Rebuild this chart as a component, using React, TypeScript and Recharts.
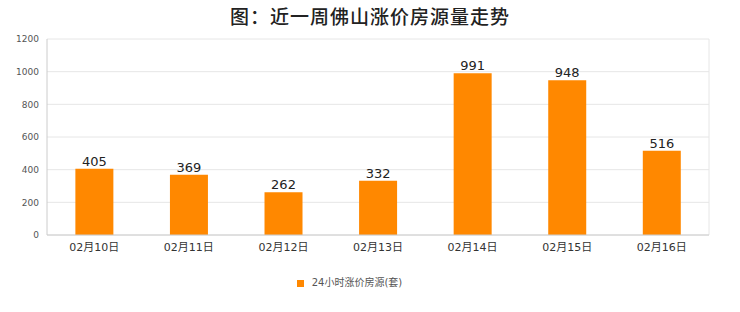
import { Bar, BarChart, CartesianGrid, LabelList, Legend, XAxis, YAxis } from 'recharts';

const dates = ['02月10日', '02月11日', '02月12日', '02月13日', '02月14日', '02月15日', '02月16日'];
const risingListings = [405, 369, 262, 332, 991, 948, 516];
const yTicks = [0, 200, 400, 600, 800, 1000, 1200];

const data = dates.map((date, i) => ({ date, value: risingListings[i] }));

const latin = '"DejaVu Sans", "Noto Sans CJK SC", sans-serif';

export default function App() {
  return (
    <div style={{ position: 'absolute', left: 0, top: 0, width: 740, height: 312, background: '#fff', fontFamily: latin }}>
      <div style={{ position: 'absolute', top: 2, left: 0, width: 740, textAlign: 'center', fontSize: 19, fontWeight: 500, color: '#222', letterSpacing: 1, fontFamily: '"Noto Sans CJK SC", sans-serif' }}>
        图：近一周佛山涨价房源量走势
      </div>
      <BarChart width={740} height={312} data={data} margin={{ top: 39, right: 31, left: 0, bottom: 23 }} barCategoryGap="30%">
        <CartesianGrid
          stroke="#e6e6e6"
          verticalCoordinatesGenerator={({ offset }: any) => [offset.left + offset.width]}
        />
        <XAxis dataKey="date" stroke="#ccc" tickLine={false} tick={{ fill: '#333', fontSize: 11 }} height={39} />
        <YAxis domain={[0, 1200]} ticks={yTicks} stroke="#ccc" tickLine={false} tick={{ fill: '#555', fontSize: 9 }} width={47} />
        <Legend
          verticalAlign="bottom"
          iconType="square"
          iconSize={7}
          wrapperStyle={{ fontSize: 10, color: '#555' }}
          formatter={(v) => <span style={{ color: '#555', marginLeft: 4 }}>{v}</span>}
        />
        <Bar dataKey="value" name="24小时涨价房源(套)" fill="#ff8800" isAnimationActive={false}>
          <LabelList dataKey="value" position="top" fill="#222" fontSize={13} offset={3} />
        </Bar>
      </BarChart>
    </div>
  );
}
